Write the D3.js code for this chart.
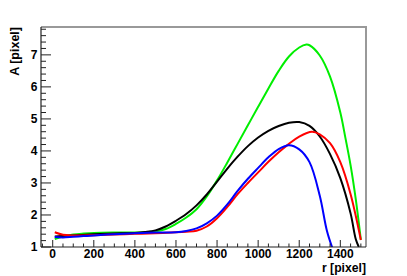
<!DOCTYPE html>
<html><head><meta charset="utf-8">
<script src="https://cdn.jsdelivr.net/npm/d3@7"></script>
<style>body{margin:0;background:#fff}svg{display:block}text{font-family:"Liberation Sans",Arial,sans-serif;font-weight:bold}</style>
</head><body><svg width="407" height="276"></svg>
<script>
const xTicks = [0, 200, 400, 600, 800, 1000, 1200, 1400];
const yTicks = [1, 2, 3, 4, 5, 6, 7];
const xLabel = "r [pixel]";
const yLabel = "A [pixel]";

const blackX = [10, 100, 200, 300, 400, 450, 500, 550, 600, 650, 700, 750, 800, 850, 900, 950, 1000, 1050, 1100, 1150, 1200, 1250, 1300, 1350, 1400, 1450, 1475, 1490];
const blackY = [1.33, 1.36, 1.40, 1.42, 1.44, 1.47, 1.52, 1.64, 1.82, 2.03, 2.3, 2.64, 3.04, 3.45, 3.82, 4.15, 4.42, 4.63, 4.78, 4.88, 4.9, 4.78, 4.45, 3.9, 3.15, 2.05, 1.25, 1.0];

const greenX = [10, 50, 100, 150, 200, 300, 400, 450, 500, 550, 600, 650, 700, 750, 800, 850, 900, 950, 1000, 1050, 1100, 1150, 1200, 1235, 1250, 1300, 1350, 1400, 1425, 1450, 1475, 1500];
const greenY = [1.25, 1.33, 1.39, 1.42, 1.44, 1.45, 1.45, 1.46, 1.49, 1.56, 1.72, 1.92, 2.18, 2.58, 3.08, 3.64, 4.22, 4.8, 5.38, 5.95, 6.5, 6.95, 7.23, 7.32, 7.3, 6.98, 6.32, 5.2, 4.4, 3.55, 2.5, 1.22];

const redX = [10, 50, 100, 150, 200, 300, 400, 500, 600, 650, 700, 750, 800, 850, 900, 950, 1000, 1050, 1100, 1150, 1200, 1262, 1300, 1350, 1400, 1450, 1500];
const redY = [1.46, 1.38, 1.36, 1.36, 1.37, 1.39, 1.41, 1.43, 1.46, 1.48, 1.51, 1.64, 1.9, 2.25, 2.65, 3.0, 3.33, 3.66, 3.96, 4.22, 4.45, 4.6, 4.52, 4.24, 3.65, 2.65, 1.22];

const blueX = [10, 50, 100, 150, 200, 300, 400, 500, 600, 650, 700, 750, 800, 850, 900, 950, 1000, 1050, 1100, 1150, 1200, 1250, 1300, 1335, 1365];
const blueY = [1.31, 1.30, 1.32, 1.34, 1.36, 1.40, 1.43, 1.45, 1.46, 1.5, 1.58, 1.74, 1.98, 2.33, 2.75, 3.13, 3.47, 3.8, 4.06, 4.18, 4.05, 3.65, 2.6, 1.5, 0.9];

const series = [
  {x: greenX, y: greenY, color: "#00ee00"},
  {x: blackX, y: blackY, color: "#000000"},
  {x: redX, y: redY, color: "#ff0000"},
  {x: blueX, y: blueY, color: "#0000ff"}
];

const svg = d3.select("svg");
const L = 41, R = 366, T = 27, B = 247;
const x = d3.scaleLinear().domain([-57, 1525]).range([L, R]);
const y = d3.scaleLinear().domain([1, 7.87]).range([B, T]);

svg.append("clipPath").attr("id", "c").append("rect")
  .attr("x", L).attr("y", T).attr("width", R - L).attr("height", B - T);

const line = d3.line().x(d => x(d[0])).y(d => y(d[1])).curve(d3.curveCatmullRom.alpha(0.5));
const g = svg.append("g").attr("clip-path", "url(#c)");
series.forEach(s => {
  g.append("path").datum(s.x.map((v, i) => [v, s.y[i]]))
    .attr("d", line).attr("fill", "none").attr("stroke", s.color).attr("stroke-width", 2);
});

// frame top/right
svg.append("path").attr("d", `M${L},${T}H${R}V${B}`).attr("fill", "none").attr("stroke", "#999").attr("stroke-width", 2);

// y axis
const yMinor = d3.range(1, 7.87, 0.2);
svg.selectAll(".ym").data(yMinor).enter().append("line")
  .attr("x1", L).attr("x2", d => L + (Math.abs(d - Math.round(d)) < 1e-6 ? 10 : 5))
  .attr("y1", d => y(d)).attr("y2", d => y(d)).attr("stroke", "#222").attr("stroke-width", 1);
svg.append("line").attr("x1", L).attr("x2", L).attr("y1", T).attr("y2", B).attr("stroke", "#222").attr("stroke-width", 1.2);
svg.selectAll(".yl").data(yTicks).enter().append("text")
  .attr("x", 37.5).attr("y", d => y(d)).attr("dy", "0.36em").attr("text-anchor", "end")
  .attr("font-size", 12).text(d => d);

// x axis
const xMinor = d3.range(-50, 1525, 50);
svg.selectAll(".xm").data(xMinor).enter().append("line")
  .attr("x1", d => x(d)).attr("x2", d => x(d))
  .attr("y1", B).attr("y2", d => B - (d % 200 === 0 ? 7 : 3.5)).attr("stroke", "#222").attr("stroke-width", 1);
svg.append("line").attr("x1", L).attr("x2", R).attr("y1", B).attr("y2", B).attr("stroke", "#222").attr("stroke-width", 1.2);
svg.selectAll(".xl").data(xTicks).enter().append("text")
  .attr("x", d => x(d)).attr("y", 257.5).attr("text-anchor", "middle")
  .attr("font-size", 12).text(d => d);

svg.append("text").attr("x", R).attr("y", 271.5).attr("text-anchor", "end").attr("font-size", 12.2).text(xLabel);
svg.append("text").attr("transform", `translate(19,${T}) rotate(-90)`).attr("text-anchor", "end").attr("font-size", 12.5).text(yLabel);
</script></body></html>
